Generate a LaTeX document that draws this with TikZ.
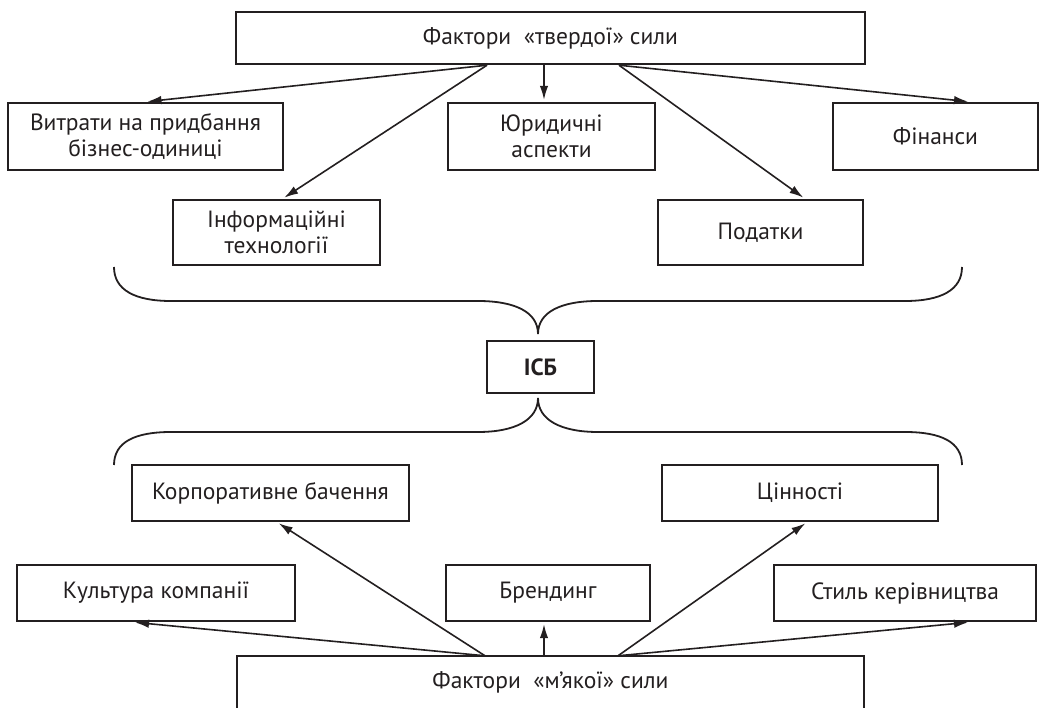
\documentclass[tikz,border=0pt]{standalone}
\usepackage{fontspec}
\setmainfont{PT Sans}
\usetikzlibrary{arrows.meta,calc}
\definecolor{ink}{RGB}{35,31,32}

\begin{document}
\begin{tikzpicture}[x=1pt,y=-1pt,
  box/.style={draw=ink, line width=2.4pt, inner sep=0pt, align=center,
    text=ink, font=\fontsize{23.5}{26}\selectfont},
  arr/.style={draw=ink, line width=1.6pt, shorten >=2pt,
    -{Latex[length=14pt,width=8.5pt]}},
  brace/.style={draw=ink, line width=1.8pt}]
  \useasboundingbox (0,0) rectangle (1042,708);
  \clip (0,0) rectangle (1042,708);
  % Hard power factors
  \node[box, minimum width=629, minimum height=52] (hard) at (550.5,38) {Фактори\ \ «твердої» сили};
  \node[box, minimum width=275, minimum height=67] (vytraty) at (145.5,136.5) {Витрати на придбання\\бізнес-одиниці};
  \node[box, minimum width=207, minimum height=67] (yurid) at (551.5,136.5) {Юридичні\\аспекти};
  \node[box, minimum width=205, minimum height=67] (finansy) at (935.5,136.5) {Фінанси};
  \node[box, minimum width=207, minimum height=65] (inform) at (276.5,232.5) {Інформаційні\\технології};
  \node[box, minimum width=205, minimum height=65] (podatky) at (760.5,232.5) {Податки};
  % Arrows from the hard power box
  \coordinate (hardL) at ([xshift=-63.5pt]hard.south);
  \coordinate (hardM) at ([xshift=-6.5pt]hard.south);
  \coordinate (hardR) at ([xshift=68.5pt]hard.south);
  \draw[arr] (hardL) -- (vytraty.north);
  \draw[arr] (hardL) -- ([xshift=6pt]inform.north);
  \draw[arr] (hardM) -- (hardM |- yurid.north);
  \draw[arr] (hardR) -- ([xshift=44.5pt]podatky.north);
  \draw[arr] (hardR) -- ([xshift=34.5pt]finansy.north);
  % Upper brace
  \draw[brace] (114,267) .. controls (114,290) and (135,301) .. (171,301) -- (478,301)
    .. controls (515,301) and (538,312) .. (538,334)
    .. controls (538,312) and (561,301) .. (598,301) -- (905,301)
    .. controls (941,301) and (962,290) .. (962,267);
  % Centre box
  \node[box, minimum width=107, minimum height=52, font=\fontsize{23.5}{26}\selectfont\bfseries] (isb) at (540.5,367) {ІСБ};
  % Lower brace
  \draw[brace] (114,465) .. controls (114,442) and (135,432) .. (171,432) -- (478,432)
    .. controls (515,432) and (538,420) .. (538,398)
    .. controls (538,420) and (561,432) .. (598,432) -- (905,432)
    .. controls (941,432) and (962,442) .. (962,465);
  % Soft power factors
  \node[box, minimum width=277, minimum height=56] (korp) at (270.5,493) {Корпоративне бачення};
  \node[box, minimum width=276, minimum height=56] (tsinn) at (800,493) {Цінності};
  \node[box, minimum width=278, minimum height=56] (kult) at (156,593) {Культура компанії};
  \node[box, minimum width=204, minimum height=56] (brend) at (548,593) {Брендинг};
  \node[box, minimum width=262, minimum height=56] (styl) at (905,593) {Стиль керівництва};
  % Soft power box, open at the bottom
  \node[box, draw=none, minimum width=625, minimum height=50] (soft) at (550.5,682) {Фактори\ \ «м’якої» сили};
  \draw[ink, line width=2.4pt] ([yshift=-20pt]soft.south west) -- (soft.north west)
    -- (soft.north east) -- ([yshift=-20pt]soft.south east);
  % Arrows from the soft power box
  \coordinate (softL) at ([xshift=-65.5pt]soft.north);
  \coordinate (softM) at ([xshift=-6.5pt]soft.north);
  \coordinate (softR) at ([xshift=67.5pt]soft.north);
  \draw[arr] (softL) -- ([xshift=-23pt]kult.south);
  \draw[arr] (softL) -- ([xshift=6.5pt]korp.south);
  \draw[arr] (softM) -- (softM |- brend.south);
  \draw[arr] (softR) -- ([xshift=7pt]tsinn.south);
  \draw[arr] (softR) -- ([xshift=65pt]styl.south);
\end{tikzpicture}
\end{document}
